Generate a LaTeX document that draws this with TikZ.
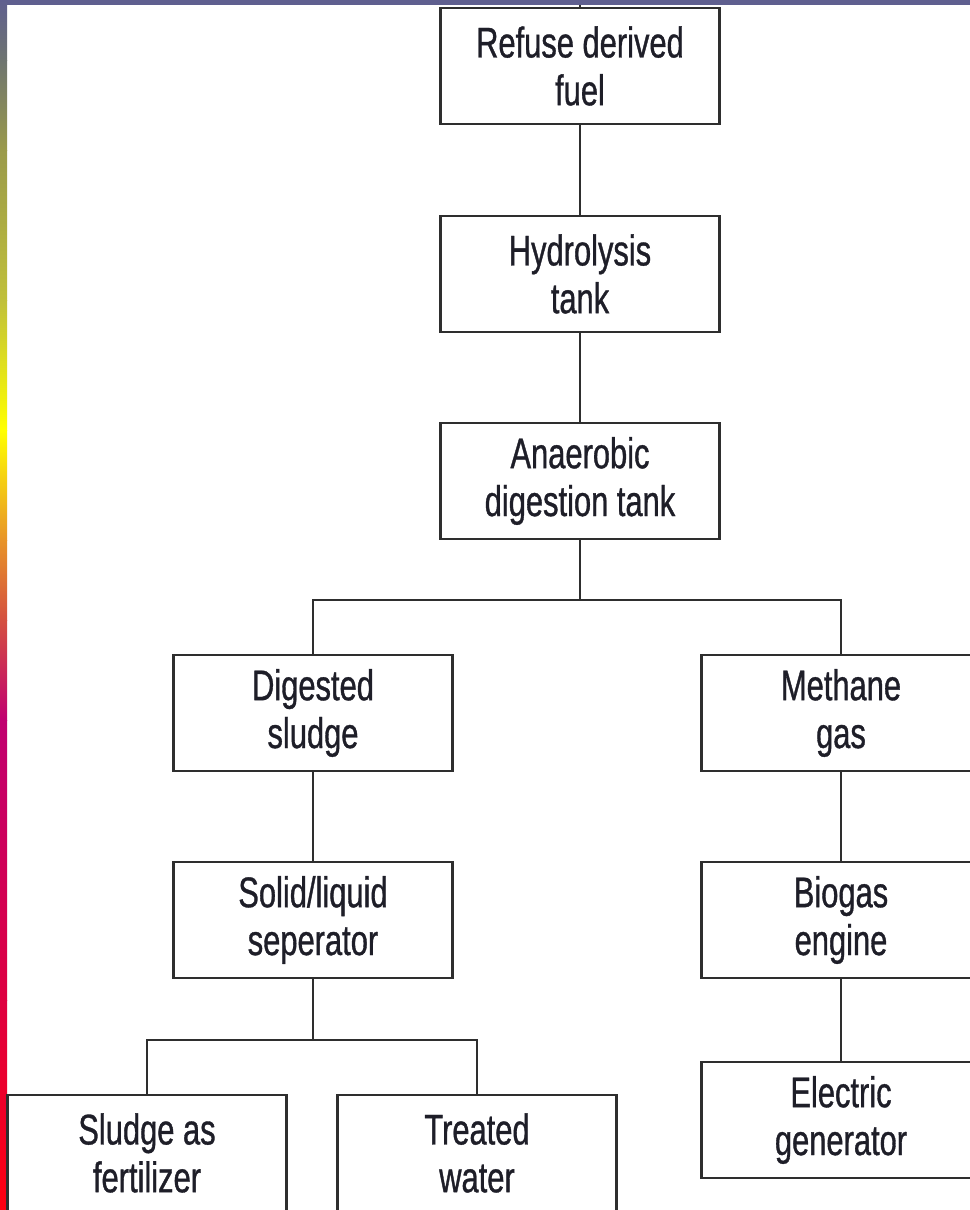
\documentclass[tikz,border=0pt]{standalone}
\usepackage{fontspec}
\setmainfont{Liberation Sans}[FakeStretch=0.72, FakeBold=0.8]
\usetikzlibrary{positioning, calc}

\definecolor{framepurple}{HTML}{5F5F8F}
\definecolor{linegray}{HTML}{2E2E2E}
\definecolor{textdark}{HTML}{1E1E28}
% colours of the left bar, top to bottom
\definecolor{barA}{HTML}{5F5F8F}
\definecolor{barB}{HTML}{6E7470}
\definecolor{barC}{HTML}{9A9A4A}
\definecolor{barD}{HTML}{C0C03A}
\definecolor{barE}{HTML}{FFFF00}
\definecolor{barF}{HTML}{E89428}
\definecolor{barG}{HTML}{D45040}
\definecolor{barH}{HTML}{C00070}
\definecolor{barI}{HTML}{DE0040}
\definecolor{barJ}{HTML}{FF0010}

\begin{document}
\begin{tikzpicture}[x=0.025cm, y=-0.025cm,
    box/.style={draw=linegray, line width=1.5pt, fill=white,
      minimum width=6.975cm, minimum height=2.9cm, inner sep=0pt,
      align=center, text=textdark, font=\fontsize{30.5}{34}\selectfont},
    link/.style={draw=linegray, line width=1.5pt}]
    \useasboundingbox (0,0) rectangle (970,1210);
    \fill[white] (0,0) rectangle (970,1210);

    % Frame
    \fill[framepurple] (0,0) rectangle (970,5);
    \foreach \ya/\yb/\ca/\cb in {0/60/barA/barB, 60/150/barB/barC,
        150/300/barC/barD, 300/430/barD/barE, 430/540/barE/barF,
        540/620/barF/barG, 620/720/barG/barH, 720/1000/barH/barI,
        1000/1210/barI/barJ}
      \shade[top color=\ca, bottom color=\cb] (0,\ya) rectangle (7,\yb);

    % Main line
    \node[box] (rdf) at (580,66) {Refuse derived\\fuel};
    \node[box] (hydro) at (580,274) {Hydrolysis\\tank};
    \node[box] (anaer) at (580,481) {Anaerobic\\digestion tank};

    % Sludge branch
    \node[box] (digest) at (313,713) {Digested\\sludge};
    \node[box] (separ) at (313,920) {Solid/liquid\\seperator};
    \node[box] (fert) at (147,1153) {Sludge as\\fertilizer};
    \node[box] (water) at (477,1153) {Treated\\water};

    % Gas branch
    \node[box] (methane) at (841,713) {Methane\\gas};
    \node[box] (biogas) at (841,920) {Biogas\\engine};
    \node[box] (elec) at (841,1120) {Electric\\generator};

    % Connectors
    \coordinate (top) at (580,5);
    \coordinate (split) at (580,600);
    \coordinate (split2) at (313,1040);
    \draw[link] (top) -- (rdf.north);
    \draw[link] (rdf) -- (hydro);
    \draw[link] (hydro) -- (anaer);
    \draw[link] (anaer) -- (split);
    \draw[link] (digest.north) -- (digest.north |- split) -- (methane.north |- split) -- (methane.north);
    \draw[link] (digest) -- (separ);
    \draw[link] (separ) -- (split2);
    \draw[link] (fert.north) -- (fert.north |- split2) -- (water.north |- split2) -- (water.north);
    \draw[link] (methane) -- (biogas);
    \draw[link] (biogas) -- (elec);
\end{tikzpicture}
\end{document}
